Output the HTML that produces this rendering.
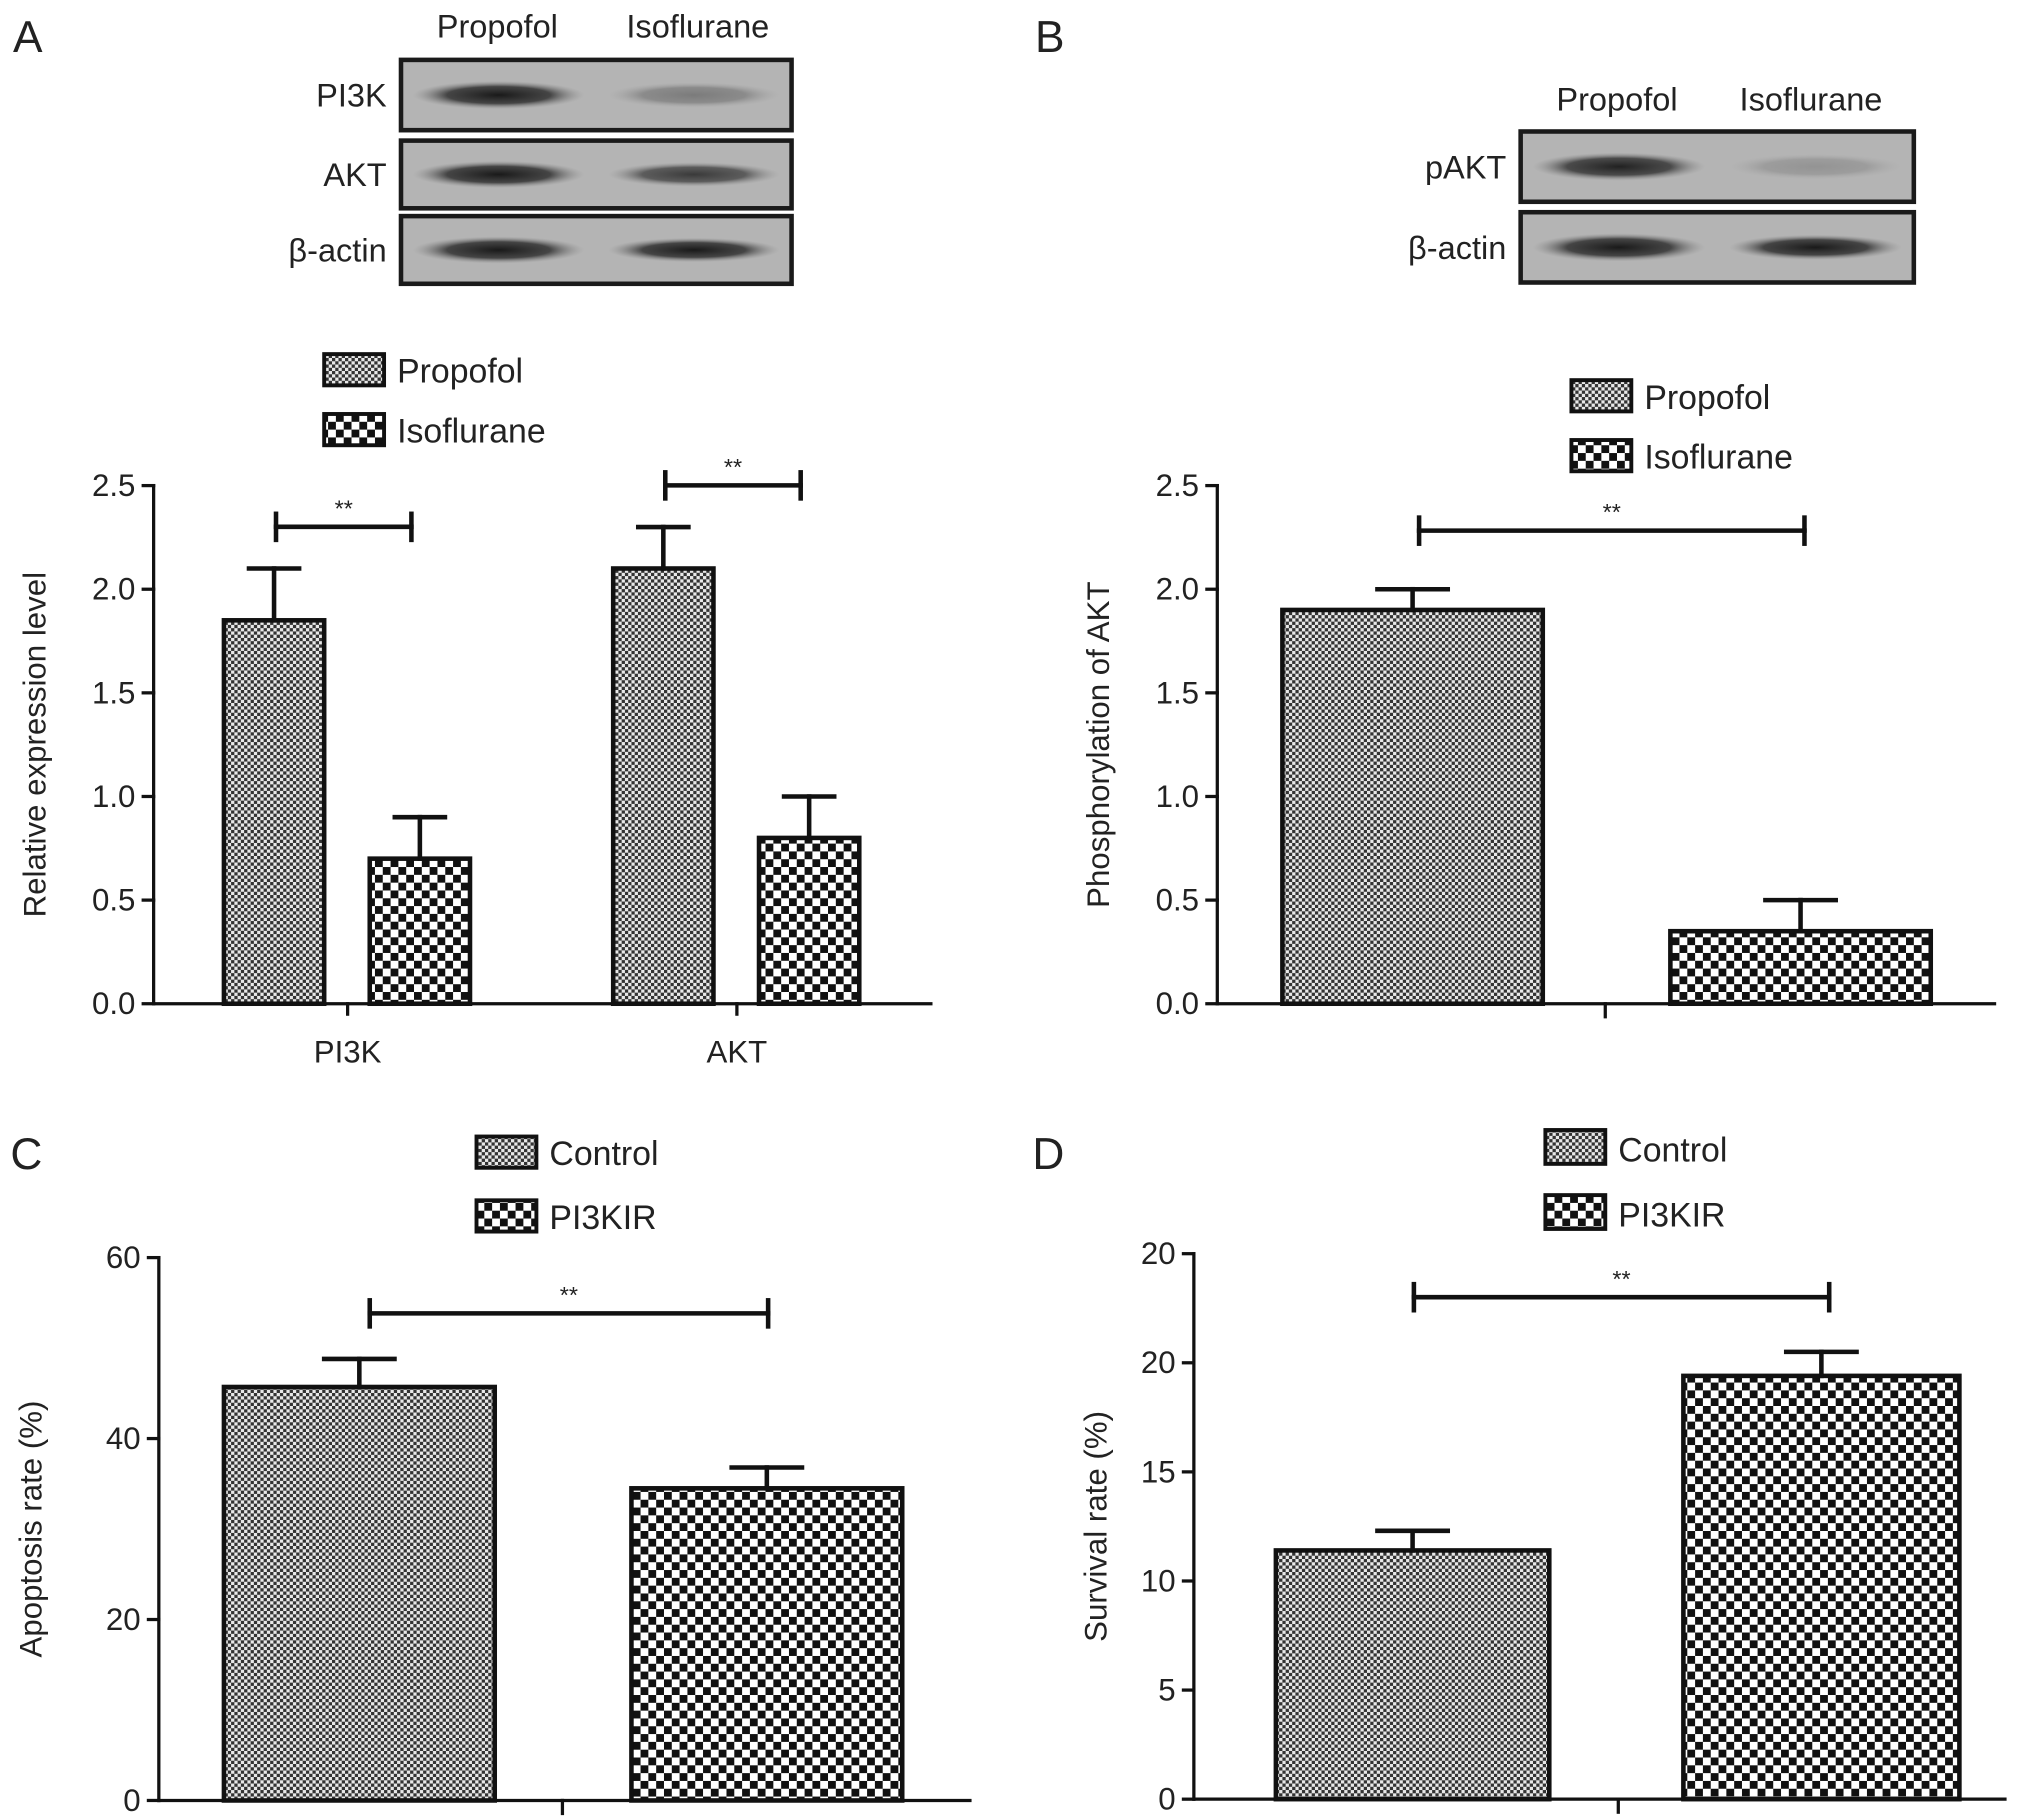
<!DOCTYPE html>
<html><head><meta charset="utf-8"><style>
html,body{margin:0;padding:0;background:#fff}
svg{display:block;font-family:"Liberation Sans",sans-serif}
</style></head><body>
<svg id="fig" width="2031" height="1820" viewBox="0 0 1560 1398" preserveAspectRatio="none" xmlns="http://www.w3.org/2000/svg">
<defs>
<pattern id="fine" width="5" height="5" patternUnits="userSpaceOnUse"><rect width="5" height="5" fill="#e8e8e8"/><rect width="2.5" height="2.5" fill="#333"/><rect x="2.5" y="2.5" width="2.5" height="2.5" fill="#333"/></pattern>
<pattern id="coarse" width="12" height="12" patternUnits="userSpaceOnUse"><rect width="12" height="12" fill="#fff"/><rect width="6" height="6" fill="#111"/><rect x="6" y="6" width="6" height="6" fill="#111"/></pattern>
<radialGradient id="band"><stop offset="0" stop-color="#111"/><stop offset="0.6" stop-color="#2a2a2a" stop-opacity="0.85"/><stop offset="1" stop-color="#888" stop-opacity="0"/></radialGradient>
</defs>
<g id="root"></g>
</svg>
<script>
// Panel A data
const catsA = ["PI3K","AKT"];
const propA = [1.85, 2.1];
const propErrA = [2.1, 2.3];
const isoA = [0.7, 0.8];
const isoErrA = [0.9, 1.0];
const ticksA = ["0.0","0.5","1.0","1.5","2.0","2.5"];
// Panel B data
const valsB = [1.9, 0.35];
const errsB = [2.0, 0.5];
const ticksB = ["0.0","0.5","1.0","1.5","2.0","2.5"];
// Panel C data
const valsC = [45.7, 34.5];
const errsC = [48.8, 36.8];
const ticksC = ["0","20","40","60"];
// Panel D data
const valsD = [11.4, 19.4];
const errsD = [12.3, 20.5];
const ticksD = ["0","5","10","15","20","20"];

const NS="http://www.w3.org/2000/svg";
const root=document.getElementById('root');
function mk(tag,attrs,parent,text){const e=document.createElementNS(NS,tag);for(const k in attrs)e.setAttribute(k,attrs[k]);if(text!==undefined)e.textContent=text;(parent||root).appendChild(e);return e;}
function line(x1,y1,x2,y2,w,p){return mk('line',{x1,y1,x2,y2,stroke:'#111','stroke-width':w||3,'stroke-linecap':'square'},p);}
function txt(x,y,s,size,anchor,p){return mk('text',{x,y,'font-size':size,'text-anchor':anchor||'start',fill:'#222'},p,s);}

function axis(g,x0,yb,yt,xr,ticks,vmax,step,title,tcx){
  const ys=v=>yb-(v/vmax)*(yb-yt);
  line(x0,yt,x0,yb,2.5,g);line(x0,yb,xr,yb,2.5,g);
  ticks.forEach((t,i)=>{const y=ys(i*step);line(x0-8,y,x0,y,2.5,g);
    const tl=txt(x0-14,y+8,t,24,'end',g);
    
    });
  const tt=mk('text',{x:0,y:0,'font-size':24,'text-anchor':'middle',fill:'#222',transform:`translate(${tcx},${(yb+yt)/2}) rotate(-90)`},g,title);
  
  
  return ys;
}
function bar(g,x,w,v,e,ys,yb,fill,name){
  const r=mk('rect',{x,y:ys(v),width:w,height:yb-ys(v),fill:`url(#${fill})`,stroke:'#111','stroke-width':3.5},g);
  
  
  const cx=x+w/2, eg=mk('g',{},g);
  
  
  const hw=Math.min(w*0.25,27);
  line(cx,ys(e),cx,ys(v),3.5,eg);line(cx-hw,ys(e),cx+hw,ys(e),3.5,eg);
}
function bracket(g,x1,x2,y){
  const b=mk('g',{},g);
  
  
  line(x1,y,x2,y,3.5,b);line(x1,y-10,x1,y+10,3.5,b);line(x2,y-10,x2,y+10,3.5,b);
  txt((x1+x2)/2,y-8,'**',18,'middle',b);
}
function legend(g,x,y1,y2,l1,l2,h){
  [[y1,'fine',l1],[y2,'coarse',l2]].forEach(([y,f,l])=>{
    const e=mk('g',{},g);
    
    
    mk('rect',{x,y,width:46,height:h,fill:`url(#${f})`,stroke:'#111','stroke-width':3},e);
    txt(x+56,y+h-2,l,26,'start',e);
  });
}
function blot(g,x,y,w,h,i1,i2,label,name){
  const b=mk('g',{},g);
  
  
  mk('rect',{x,y,width:w,height:h,fill:'#b4b4b4',stroke:'#1a1a1a','stroke-width':3.5},b);
  const cy=y+h/2;
  mk('ellipse',{cx:x+w*0.25,cy,rx:w*0.22,ry:h*0.2,fill:'url(#band)','fill-opacity':i1},b);
  mk('ellipse',{cx:x+w*0.75,cy,rx:w*0.22,ry:h*0.18,fill:'url(#band)','fill-opacity':i2},b);
  txt(x-11,cy+9,label,25,'end',b);
}
function letter(g,x,y,s){const t=txt(x,y,s,34,'start',g);}

// Panel A
let g=mk('g',{});
letter(g,10,40,'A');
txt(382,29,'Propofol',25,'middle',g);txt(536,29,'Isoflurane',25,'middle',g);
blot(g,308,46,300,54,0.95,0.35,'PI3K','western-blot-pi3k');
blot(g,308,108,300,52,0.95,0.75,'AKT','western-blot-akt');
blot(g,308,166,300,52,0.95,0.95,'\u03b2-actin','western-blot-actin-a');
legend(g,249,272,318,'Propofol','Isoflurane',24);
let ysA=axis(g,118,771,373,715,ticksA,2.5,0.5,'Relative expression level',35);
const centersA=[267,566];
catsA.forEach((c,i)=>{const cx=centersA[i];
  line(cx,771,cx,779,2.5,g);
  const l=txt(cx,816,c,24,'middle',g);
  bar(g,cx-95,77,propA[i],propErrA[i],ysA,771,'fine','bar-propofol-'+c.toLowerCase());
  bar(g,cx+17,77,isoA[i],isoErrA[i],ysA,771,'coarse','bar-isoflurane-'+c.toLowerCase());
  bracket(g,cx-55,cx+49,ysA(Math.max(propErrA[i],isoErrA[i]))-32);
});

// Panel B
g=mk('g',{});
letter(g,795,40,'B');
txt(1242,85,'Propofol',25,'middle',g);txt(1391,85,'Isoflurane',25,'middle',g);
blot(g,1168,101,302,54,0.9,0.2,'pAKT','western-blot-pakt');
blot(g,1168,163,302,54,0.95,0.95,'\u03b2-actin','western-blot-actin-b');
legend(g,1207,292,338,'Propofol','Isoflurane',24);
let ysB=axis(g,935,771,373,1532,ticksB,2.5,0.5,'Phosphorylation of AKT',852);
line(1233,771,1233,781,2.5,g);
bar(g,985,200,valsB[0],errsB[0],ysB,771,'fine','bar-propofol');
bar(g,1283,200,valsB[1],errsB[1],ysB,771,'coarse','bar-isoflurane');
bracket(g,1090,1386,ysB(Math.max(...errsB))-45);

// Panel C
g=mk('g',{});
letter(g,8,898,'C');
legend(g,366,873,922,'Control','PI3KIR',24);
let ysC=axis(g,122,1383,966,745,ticksC,60,20,'Apoptosis rate (%)',32);
line(432,1383,432,1393,2.5,g);
bar(g,172,208,valsC[0],errsC[0],ysC,1383,'fine','bar-control');
bar(g,485,208,valsC[1],errsC[1],ysC,1383,'coarse','bar-pi3kir');
bracket(g,284,590,ysC(Math.max(...errsC))-35);

// Panel D
g=mk('g',{});
letter(g,793,898,'D');
legend(g,1187,868,918,'Control','PI3KIR',26);
let ysD=axis(g,917,1382,963,1540,ticksD,25,5,'Survival rate (%)',850);
line(1243,1382,1243,1392,2.5,g);
bar(g,980,210,valsD[0],errsD[0],ysD,1382,'fine','bar-control');
bar(g,1293,212,valsD[1],errsD[1],ysD,1382,'coarse','bar-pi3kir');
bracket(g,1086,1405,ysD(Math.max(...errsD))-42);
</script>
</body></html>
